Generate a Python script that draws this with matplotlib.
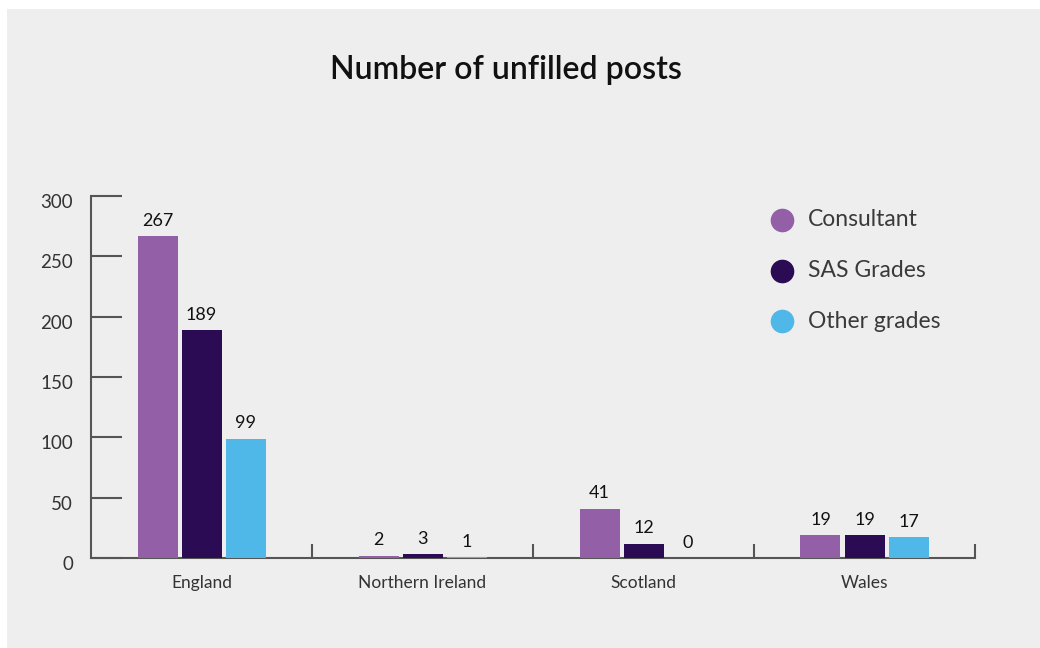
import numpy as np
from matplotlib import pyplot as plt
from matplotlib.patches import Rectangle
from matplotlib.transforms import ScaledTranslation

"""
Unfilled posts by nation and grade, grouped bars.
"""

nations = ["England", "Northern Ireland", "Scotland", "Wales"]
grades = ["Consultant", "SAS Grades", "Other grades"]
consultant = [267, 2, 41, 19]
sas = [189, 3, 12, 19]
other = [99, 1, 0, 17]
yticks = [0, 50, 100, 150, 200, 250, 300]

colours = ["#935fa7", "#2a0b54", "#4fb8e8"]
bg = "#edeeed"
text_col = "#333333"

plt.rcParams['font.family'] = ['Lato', 'DejaVu Sans']

fig = plt.figure(figsize=(10.4, 6.48), dpi=100)
fig.patch.set_facecolor("white")
# grey panel behind everything, with a thin white margin top/left
fig.patches.append(Rectangle((7 / 1040, 0), 1 - 7 / 1040, 1 - 9 / 648,
                             transform=fig.transFigure, facecolor=bg,
                             edgecolor="none", zorder=-10))

ax = fig.add_axes([91 / 1040, 90 / 648, 884 / 1040, 362 / 648])
ax.patch.set_alpha(0)

x = np.arange(len(nations))
width = 40 / 221
step = 44 / 221
series = [consultant, sas, other]
for i, vals in enumerate(series):
    pos = x + (i - 1) * step
    bars = ax.bar(pos, vals, width, color=colours[i], label=grades[i], zorder=3)
    for b, v in zip(bars, vals):
        ax.text(b.get_x() + b.get_width() / 2, v + 6, str(v),
                ha="center", va="bottom", fontsize=13, color="#111111")

ax.set_xlim(-0.5, len(nations) - 0.5)
ax.set_ylim(0, 300)

for side in ["top", "right"]:
    ax.spines[side].set_visible(False)
for side in ["left", "bottom"]:
    ax.spines[side].set_color("#555555")
    ax.spines[side].set_linewidth(1.5)

ax.set_yticks(yticks)
ax.tick_params(axis="y", direction="in", length=22, width=1.5, color="#555555",
               labelsize=13.5, labelcolor=text_col, pad=13)
# labels sit a touch below their ticks in the original
shift = ScaledTranslation(0, -5 / 100, fig.dpi_scale_trans)
for lab in ax.get_yticklabels():
    lab.set_transform(lab.get_transform() + shift)

# category labels centred, tick marks on the group boundaries
ax.set_xticks(x)
ax.set_xticklabels(nations)
ax.tick_params(axis="x", which="major", length=0, labelsize=12.5,
               labelcolor=text_col, pad=12)
ax.set_xticks(np.arange(len(nations)) + 0.5, minor=True)
ax.tick_params(axis="x", which="minor", direction="in", length=10,
               width=1.5, color="#555555")

fig.text(506 / 1040, 1 - 70 / 648, "Number of unfilled posts",
         ha="center", va="center", fontsize=23, fontweight=600, color="#111111")

# legend as coloured dots
for i, g in enumerate(grades):
    yy = 1 - (220 + i * 50.5) / 648
    fig.lines.append(plt.Line2D([782 / 1040], [yy], marker="o", markersize=16,
                                color=colours[i], transform=fig.transFigure))
    fig.text(808 / 1040, yy, g, ha="left", va="center", fontsize=16.5,
             color="#3a3a3a")

plt.savefig("out.png", dpi=100, facecolor=fig.get_facecolor())
